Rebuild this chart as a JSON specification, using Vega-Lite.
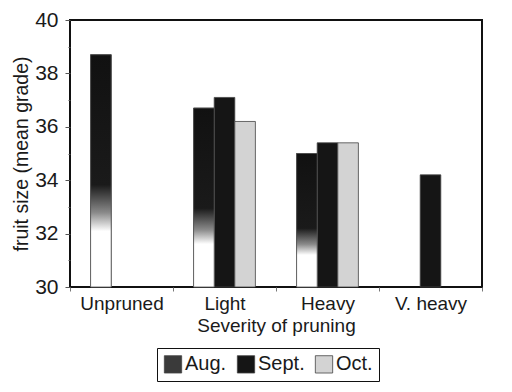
{
  "$schema": "https://vega.github.io/schema/vega-lite/v6.json",
  "width": 412,
  "height": 267,
  "autosize": {"type": "none"},
  "padding": {"left": 70, "top": 20, "right": 30, "bottom": 105},
  "background": "white",
  "config": {
    "font": "Liberation Sans",
    "view": {"stroke": "#111111", "strokeWidth": 2},
    "axis": {"labelColor": "#1a1a1a", "titleColor": "#1a1a1a", "titleFontWeight": "normal", "domain": false, "grid": false}
  },
  "data": {
    "values": [
      {"pruning": "Unpruned", "month": "Aug.", "size": 38.7},
      {"pruning": "Light", "month": "Aug.", "size": 36.7},
      {"pruning": "Light", "month": "Sept.", "size": 37.1},
      {"pruning": "Light", "month": "Oct.", "size": 36.2},
      {"pruning": "Heavy", "month": "Aug.", "size": 35.0},
      {"pruning": "Heavy", "month": "Sept.", "size": 35.4},
      {"pruning": "Heavy", "month": "Oct.", "size": 35.4},
      {"pruning": "V. heavy", "month": "Sept.", "size": 34.2}
    ]
  },
  "encoding": {
    "x": {
      "field": "pruning",
      "type": "nominal",
      "sort": ["Unpruned", "Light", "Heavy", "V. heavy"],
      "scale": {"paddingInner": 0, "paddingOuter": 0},
      "axis": {
        "title": "Severity of pruning",
        "titleFontSize": 19,
        "titlePadding": 3,
        "labelFontSize": 19,
        "labelAngle": 0,
        "labelPadding": 3,
        "tickBand": "extent",
        "ticks": true,
        "tickSize": 4,
        "tickColor": "#777777"
      }
    },
    "xOffset": {
      "field": "month",
      "type": "nominal",
      "scale": {"domain": ["Aug.", "Sept.", "Oct."], "paddingInner": 0, "paddingOuter": 1.14}
    },
    "y": {
      "field": "size",
      "type": "quantitative",
      "scale": {"domain": [30, 40], "nice": false, "zero": false},
      "axis": {
        "title": "fruit size (mean grade)",
        "titleFontSize": 19.5,
        "titlePadding": 3,
        "labelFontSize": 21,
        "labelPadding": 7,
        "values": [30, 31, 32, 33, 34, 35, 36, 37, 38, 39, 40],
        "labelExpr": "datum.value % 2 === 0 ? datum.label : ''",
        "tickSize": {"condition": {"test": "datum.value % 2 === 1", "value": 2}, "value": 5},
        "tickColor": "#555555"
      }
    },
    "y2": {"datum": 30}
  },
  "layer": [
    {
      "mark": {"type": "bar", "stroke": "#444444", "strokeWidth": 0.8, "fillOpacity": 1},
      "encoding": {
        "color": {
          "field": "month",
          "type": "nominal",
          "scale": {"domain": ["Aug.", "Sept.", "Oct."], "range": ["#3a3a3a", "#151515", "#d3d3d3"]},
          "legend": {
            "title": null,
            "orient": "none",
            "legendX": 87,
            "legendY": 328,
            "direction": "horizontal",
            "strokeColor": "#111111",
            "padding": 6,
            "symbolType": "square",
            "symbolSize": 300,
            "symbolStrokeColor": "#444444",
            "symbolStrokeWidth": 0.8,
            "symbolOpacity": 1,
            "labelFontSize": 20,
            "labelColor": "#1a1a1a",
            "labelOffset": 2,
            "columnPadding": 8
          }
        }
      }
    },
    {
      "transform": [{"filter": "datum.month === 'Aug.'"}],
      "mark": {
        "type": "bar",
        "stroke": "#555555",
        "strokeWidth": 0.8,
        "color": {"gradient": "linear", "x1": 0, "y1": 0, "x2": 0, "y2": 1, "stops": [
          {"offset": 0, "color": "#111111"},
          {"offset": 0.56, "color": "#1a1a1a"},
          {"offset": 0.68, "color": "#8a8a8a"},
          {"offset": 0.76, "color": "#ffffff"},
          {"offset": 1, "color": "#ffffff"}
        ]}
      }
    }
  ]
}
